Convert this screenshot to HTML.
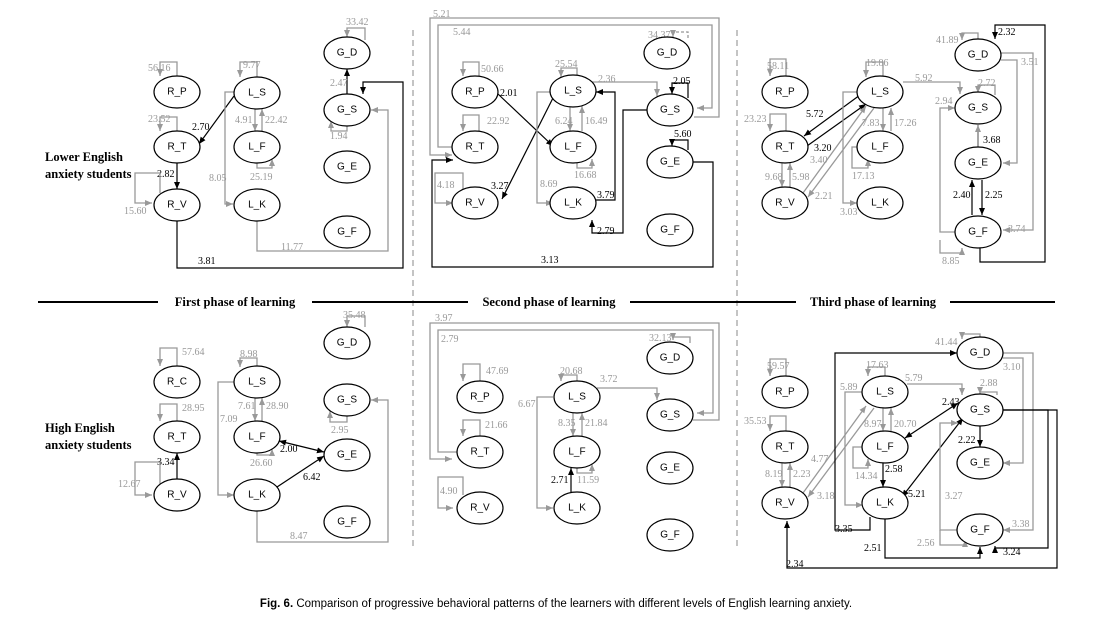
<!DOCTYPE html>
<html><head><meta charset="utf-8"><style>
html,body{margin:0;padding:0;background:#fff;}
svg{display:block}
.n ellipse{fill:#fff;stroke:#000;stroke-width:1.2}
.n text{font-family:"Liberation Sans",sans-serif;font-size:10px;text-anchor:middle;dominant-baseline:central;fill:#000}
.g{fill:none;stroke:#999;stroke-width:1.3;marker-end:url(#ag)}
.b{fill:none;stroke:#000;stroke-width:1.2;marker-end:url(#ab)}
.bb{fill:none;stroke:#000;stroke-width:1.2;marker-end:url(#ab);marker-start:url(#as)}
.lg{font-family:"Liberation Serif",serif;font-size:10px;fill:#999}
.lb{font-family:"Liberation Serif",serif;font-size:10px;fill:#000}
.h{font-family:"Liberation Serif",serif;font-size:12.5px;font-weight:bold;fill:#000}
</style></head><body>
<svg width="1113" height="634" viewBox="0 0 1113 634" xmlns="http://www.w3.org/2000/svg">
<defs>
<marker id="ag" markerWidth="8" markerHeight="8" refX="7" refY="3" orient="auto" markerUnits="userSpaceOnUse"><path d="M0,0 L7,3 L0,6z" fill="#999"/></marker>
<marker id="ab" markerWidth="8" markerHeight="8" refX="7" refY="3" orient="auto" markerUnits="userSpaceOnUse"><path d="M0,0 L7,3 L0,6z" fill="#000"/></marker>
<marker id="as" markerWidth="8" markerHeight="8" refX="0" refY="3" orient="auto" markerUnits="userSpaceOnUse"><path d="M7,0 L0,3 L7,6z" fill="#000"/></marker>
</defs>

<!-- dividers -->
<line x1="413" y1="30" x2="413" y2="548" stroke="#888" stroke-dasharray="6,4"/>
<line x1="737" y1="30" x2="737" y2="548" stroke="#888" stroke-dasharray="6,4"/>
<line x1="38" y1="302" x2="158" y2="302" stroke="#000" stroke-width="2"/>
<line x1="312" y1="302" x2="468" y2="302" stroke="#000" stroke-width="2"/>
<line x1="630" y1="302" x2="796" y2="302" stroke="#000" stroke-width="2"/>
<line x1="950" y1="302" x2="1055" y2="302" stroke="#000" stroke-width="2"/>
<rect x="160" y="294" width="150" height="16" fill="#fff"/>
<text class="h" x="235" y="306" text-anchor="middle">First phase of learning</text>
<text class="h" x="549" y="306" text-anchor="middle">Second phase of learning</text>
<text class="h" x="873" y="306" text-anchor="middle">Third phase of learning</text>
<text class="h" x="45" y="161">Lower English</text>
<text class="h" x="45" y="178">anxiety students</text>
<text class="h" x="45" y="432">High English</text>
<text class="h" x="45" y="449">anxiety students</text>
<text x="556" y="607" text-anchor="middle" style="font-family:'Liberation Sans',sans-serif;font-size:11.5px"><tspan font-weight="bold">Fig. 6.</tspan> Comparison of progressive behavioral patterns of the learners with different levels of English learning anxiety.</text>

<!-- ===== Panel 1 top edges ===== -->
<path class="g" d="M177,76 V62 H160 V76"/><text class="lg" x="148" y="71">56.16</text>
<path class="g" d="M177,131 V117 H160 V131"/><text class="lg" x="148" y="122">23.52</text>
<path class="b" d="M177,163 V189"/><text class="lb" x="157" y="177">2.82</text>
<path class="g" d="M160,193 V173 H135 V203 H152"/><text class="lg" x="124" y="214">15.60</text>
<path class="b" d="M234,96 L199,144"/><text class="lb" x="192" y="130">2.70</text>
<path class="g" d="M257,77 V62 H240 V77"/><text class="lg" x="243" y="68">9.77</text>
<path class="g" d="M255,109 V131"/><path class="g" d="M262,131 V109"/><text class="lg" x="235" y="123">4.91</text><text class="lg" x="265" y="123">22.42</text>
<path class="g" d="M257,163 V168 H272 V159"/><text class="lg" x="250" y="180">25.19</text>
<path class="g" d="M234,92 H225 V204 H233"/><text class="lg" x="209" y="181">8.05</text>
<path class="g" d="M257,221 V251 H388 V110 H371"/><text class="lg" x="281" y="250">11.77</text>
<path class="b" d="M177,221 V268 H403 V82 H363 V94"/><text class="lb" x="198" y="264">3.81</text>
<path class="b" d="M347,94 V69"/><text class="lg" x="330" y="86">2.47</text>
<path class="g" d="M365,40 V28 H347 V37"/><text class="lg" x="346" y="25">33.42</text>
<path class="g" d="M347,126 V131 H331 V121"/><text class="lg" x="330" y="139">1.94</text>

<!-- ===== Panel 2 top ===== -->
<path class="g" d="M452,147 H438 V25 H712 V108 H697"/><text class="lg" x="453" y="35">5.44</text>
<path class="g" d="M694,117 H719 V18 H430 V155 H452"/><text class="lg" x="433" y="17">5.21</text>
<path class="b" d="M693,162 H713 V267 H432 V160 H453"/><text class="lb" x="541" y="263">3.13</text>
<path class="g" d="M463,189 V173 H435 V203 H453"/><text class="lg" x="437" y="188">4.18</text>
<path class="g" d="M479,76 V62 H463 V76"/><text class="lg" x="481" y="72">50.66</text>
<path class="g" d="M479,131 V115 H463 V131"/><text class="lg" x="487" y="124">22.92</text>
<path class="b" d="M498,94 L553,146"/><text class="lb" x="500" y="96">2.01</text>
<path class="b" d="M555,94 L502,199"/><text class="lb" x="491" y="189">3.27</text>
<path class="g" d="M577,75 V68 H561 V77"/><text class="lg" x="555" y="67">25.54</text>
<path class="g" d="M570,106 V131"/><path class="g" d="M582,131 V106"/><text class="lg" x="555" y="124">6.24</text><text class="lg" x="585" y="124">16.49</text>
<path class="g" d="M577,163 V168 H592 V159"/><text class="lg" x="574" y="178">16.68</text>
<path class="g" d="M553,92 H537 V203 H553"/><text class="lg" x="540" y="187">8.69</text>
<path class="b" d="M596,200 H615 V92 H596"/><text class="lb" x="597" y="198">3.79</text>
<path class="b" d="M647,110 H623 V233 H592 V220"/><text class="lb" x="597" y="234">2.79</text>
<path class="g" d="M592,82 H657 V96"/><text class="lg" x="598" y="82">2.36</text>
<path class="b" d="M688,98 V83 H672 V94"/><text class="lb" x="673" y="84">2.05</text>
<path class="b" d="M688,150 V140 H672 V146"/><text class="lb" x="674" y="137">5.60</text>
<path class="g" d="M688,38 V32 H673 V37" stroke-dasharray="3,2"/><text class="lg" x="648" y="38">34.37</text>

<!-- ===== Panel 3 top ===== -->
<path class="g" d="M786,76 V59 H770 V76"/><text class="lg" x="767" y="69">58.11</text>
<path class="g" d="M786,131 V114 H770 V131"/><text class="lg" x="744" y="122">23.23</text>
<path class="g" d="M782,163 V187"/><path class="g" d="M790,187 V163"/><text class="lg" x="765" y="180">9.68</text><text class="lg" x="792" y="180">5.98</text>
<path class="b" d="M860,95 L804,136"/><text class="lb" x="806" y="117">5.72</text>
<path class="b" d="M807,146 L866,104"/><text class="lb" x="814" y="151">3.20</text>
<path class="g" d="M803,193 L866,106"/><path class="g" d="M874,108 L808,197"/><text class="lg" x="810" y="163">3.40</text><text class="lg" x="815" y="199">2.21</text>
<path class="g" d="M883,76 V62 H866 V77"/><text class="lg" x="866" y="66">19.86</text>
<path class="g" d="M883,108 V131"/><path class="g" d="M891,131 V108"/><text class="lg" x="862" y="126">7.83</text><text class="lg" x="894" y="126">17.26</text>
<path class="g" d="M862,147 H852 V168 H868 V159"/><text class="lg" x="852" y="179">17.13</text>
<path class="g" d="M857,92 H843 V203 H857"/><text class="lg" x="840" y="215">3.03</text>
<path class="g" d="M903,82 H960 V94"/><text class="lg" x="915" y="81">5.92</text>
<path class="g" d="M995,95 V85 H978 V93"/><text class="lg" x="978" y="86">2.72</text>
<path class="g" d="M955,232 H940 V108 H955"/><text class="lg" x="935" y="104">2.94</text>
<path class="g" d="M940,240 V253 H962 V248"/><text class="lg" x="942" y="264">8.85</text>
<path class="g" d="M978,147 V125" style="stroke:#777"/><text class="lb" x="983" y="143">3.68</text>
<path class="b" d="M972,215 V180"/><path class="b" d="M982,180 V215"/><text class="lb" x="953" y="198">2.40</text><text class="lb" x="985" y="198">2.25</text>
<path class="g" d="M1001,53 H1033 V230 H1003"/><path class="g" d="M1001,60 H1017 V163 H1003"/><text class="lg" x="1021" y="65">3.51</text><text class="lg" x="1008" y="232">3.74</text>
<path class="b" d="M980,248 V262 H1045 V25 H995 V39"/><text class="lb" x="998" y="35">2.32</text>
<path class="g" d="M978,40 V33 H962 V40"/><text class="lg" x="936" y="43">41.89</text>

<!-- ===== Panel 1 bottom ===== -->
<path class="g" d="M365,327 V316 H347 V327"/><text class="lg" x="343" y="318">35.48</text>
<path class="g" d="M177,366 V348 H160 V366"/><text class="lg" x="182" y="355">57.64</text>
<path class="g" d="M177,421 V404 H160 V421"/><text class="lg" x="182" y="411">28.95</text>
<path class="b" d="M177,479 V453"/><text class="lb" x="157" y="465">3.34</text>
<path class="g" d="M160,484 V462 H135 V495 H152"/><text class="lg" x="118" y="487">12.67</text>
<path class="g" d="M257,367 V358 H240 V367"/><text class="lg" x="240" y="357">8.98</text>
<path class="g" d="M255,398 V421"/><path class="g" d="M262,421 V398"/><text class="lg" x="238" y="409">7.61</text><text class="lg" x="266" y="409">28.90</text>
<path class="g" d="M257,453 V455 H272 V449"/><text class="lg" x="250" y="466">26.60</text>
<path class="g" d="M234,382 H218 V495 H234"/><text class="lg" x="220" y="422">7.09</text>
<path class="bb" d="M279,441 L324,452"/><text class="lb" x="280" y="452">2.00</text>
<path class="b" d="M277,487 L324,456"/><text class="lb" x="303" y="480">6.42</text>
<path class="g" d="M347,416 V422 H330 V411"/><text class="lg" x="331" y="433">2.95</text>
<path class="g" d="M257,511 V542 H388 V400 H371"/><text class="lg" x="290" y="539">8.47</text>

<!-- ===== Panel 2 bottom ===== -->
<path class="g" d="M693,420 H719 V323 H430 V459 H452"/><text class="lg" x="435" y="321">3.97</text>
<path class="g" d="M458,452 H438 V330 H713 V413 H697"/><text class="lg" x="441" y="342">2.79</text>
<path class="g" d="M690,343 V337 H673 V340"/><text class="lg" x="649" y="341">32.13</text>
<path class="g" d="M480,381 V364 H463 V381"/><text class="lg" x="486" y="374">47.69</text>
<path class="g" d="M480,436 V420 H463 V436"/><text class="lg" x="485" y="428">21.66</text>
<path class="g" d="M463,495 V477 H438 V508 H453"/><text class="lg" x="440" y="494">4.90</text>
<path class="g" d="M577,381 V375 H561 V381"/><text class="lg" x="560" y="374">20.68</text>
<path class="g" d="M573,413 V436"/><path class="g" d="M582,436 V413"/><text class="lg" x="558" y="426">8.35</text><text class="lg" x="585" y="426">21.84</text>
<path class="g" d="M577,468 V473 H592 V464"/><text class="lg" x="577" y="483">11.59</text>
<path class="b" d="M571,492 V468"/><text class="lb" x="551" y="483">2.71</text>
<path class="g" d="M553,397 H537 V508 H553"/><text class="lg" x="518" y="407">6.67</text>
<path class="g" d="M597,388 H657 V400"/><text class="lg" x="600" y="382">3.72</text>

<!-- ===== Panel 3 bottom ===== -->
<path class="g" d="M980,337 V334 H962 V339"/><text class="lg" x="935" y="345">41.44</text>
<path class="g" d="M786,376 V359 H770 V376"/><text class="lg" x="767" y="369">59.57</text>
<path class="g" d="M786,431 V416 H770 V431"/><text class="lg" x="744" y="424">35.53</text>
<path class="g" d="M782,463 V487"/><path class="g" d="M790,487 V463"/><text class="lg" x="765" y="477">8.19</text><text class="lg" x="793" y="477">2.23</text>
<path class="g" d="M803,493 L866,406"/><path class="g" d="M874,408 L808,497"/><text class="lg" x="811" y="462">4.77</text><text class="lg" x="817" y="499">3.18</text>
<path class="g" d="M885,376 V367 H868 V376"/><text class="lg" x="866" y="368">17.63</text>
<path class="g" d="M883,408 V431"/><path class="g" d="M891,431 V408"/><text class="lg" x="864" y="427">8.97</text><text class="lg" x="894" y="427">20.70</text>
<path class="g" d="M866,447 H853 V468 H868 V459"/><text class="lg" x="855" y="479">14.34</text>
<path class="g" d="M863,392 H845 V505 H863"/><text class="lg" x="840" y="390">5.89</text>
<path class="b" d="M883,463 V487"/><text class="lb" x="885" y="472">2.58</text>
<path class="b" d="M870,517 V530 H835 V353 H957"/><text class="lb" x="835" y="532">3.35</text>
<path class="g" d="M907,384 H962 V395"/><text class="lg" x="905" y="381">5.79</text>
<path class="g" d="M997,395 V392 H980 V394"/><text class="lg" x="980" y="386">2.88</text>
<path class="bb" d="M958,403 L905,438"/><text class="lb" x="942" y="405">2.43</text>
<path class="bb" d="M902,497 L963,418"/><text class="lb" x="908" y="497">5.21</text>
<path class="b" d="M980,426 V447"/><text class="lb" x="958" y="443">2.22</text>
<path class="g" d="M957,530 H940 V423 H958"/><text class="lg" x="945" y="499">3.27</text>
<path class="g" d="M940,530 V545 H965 V540"/><text class="lg" x="917" y="546">2.56</text>
<path class="g" d="M1003,353 H1033 V530 H1003"/><path class="g" d="M1003,358 H1023 V463 H1003"/><text class="lg" x="1003" y="370">3.10</text><text class="lg" x="1012" y="527">3.38</text>
<path class="b" d="M1003,410 H1048 V548 H995 V546"/><text class="lb" x="1003" y="555">3.24</text>
<path class="b" d="M1003,410 H1057 V568 H787 V521"/><text class="lb" x="786" y="567">2.34</text>
<path class="b" d="M885,519 V558 H980 V547"/><text class="lb" x="864" y="551">2.51</text>

<!-- ===== nodes ===== -->
<g class="n">
<!-- panel1 top -->
<ellipse cx="177" cy="92" rx="23" ry="16"/><text x="177" y="92">R_P</text>
<ellipse cx="177" cy="147" rx="23" ry="16"/><text x="177" y="147">R_T</text>
<ellipse cx="177" cy="205" rx="23" ry="16"/><text x="177" y="205">R_V</text>
<ellipse cx="257" cy="93" rx="23" ry="16"/><text x="257" y="93">L_S</text>
<ellipse cx="257" cy="147" rx="23" ry="16"/><text x="257" y="147">L_F</text>
<ellipse cx="257" cy="205" rx="23" ry="16"/><text x="257" y="205">L_K</text>
<ellipse cx="347" cy="53" rx="23" ry="16"/><text x="347" y="53">G_D</text>
<ellipse cx="347" cy="110" rx="23" ry="16"/><text x="347" y="110">G_S</text>
<ellipse cx="347" cy="167" rx="23" ry="16"/><text x="347" y="167">G_E</text>
<ellipse cx="347" cy="232" rx="23" ry="16"/><text x="347" y="232">G_F</text>
<!-- panel2 top -->
<ellipse cx="475" cy="92" rx="23" ry="16"/><text x="475" y="92">R_P</text>
<ellipse cx="475" cy="147" rx="23" ry="16"/><text x="475" y="147">R_T</text>
<ellipse cx="475" cy="203" rx="23" ry="16"/><text x="475" y="203">R_V</text>
<ellipse cx="573" cy="91" rx="23" ry="16"/><text x="573" y="91">L_S</text>
<ellipse cx="573" cy="147" rx="23" ry="16"/><text x="573" y="147">L_F</text>
<ellipse cx="573" cy="203" rx="23" ry="16"/><text x="573" y="203">L_K</text>
<ellipse cx="667" cy="53" rx="23" ry="16"/><text x="667" y="53">G_D</text>
<ellipse cx="670" cy="110" rx="23" ry="16"/><text x="670" y="110">G_S</text>
<ellipse cx="670" cy="162" rx="23" ry="16"/><text x="670" y="162">G_E</text>
<ellipse cx="670" cy="230" rx="23" ry="16"/><text x="670" y="230">G_F</text>
<!-- panel3 top -->
<ellipse cx="785" cy="92" rx="23" ry="16"/><text x="785" y="92">R_P</text>
<ellipse cx="785" cy="147" rx="23" ry="16"/><text x="785" y="147">R_T</text>
<ellipse cx="785" cy="203" rx="23" ry="16"/><text x="785" y="203">R_V</text>
<ellipse cx="880" cy="92" rx="23" ry="16"/><text x="880" y="92">L_S</text>
<ellipse cx="880" cy="147" rx="23" ry="16"/><text x="880" y="147">L_F</text>
<ellipse cx="880" cy="203" rx="23" ry="16"/><text x="880" y="203">L_K</text>
<ellipse cx="978" cy="55" rx="23" ry="16"/><text x="978" y="55">G_D</text>
<ellipse cx="978" cy="108" rx="23" ry="16"/><text x="978" y="108">G_S</text>
<ellipse cx="978" cy="163" rx="23" ry="16"/><text x="978" y="163">G_E</text>
<ellipse cx="978" cy="232" rx="23" ry="16"/><text x="978" y="232">G_F</text>
<!-- panel1 bottom -->
<ellipse cx="347" cy="343" rx="23" ry="16"/><text x="347" y="343">G_D</text>
<ellipse cx="177" cy="382" rx="23" ry="16"/><text x="177" y="382">R_C</text>
<ellipse cx="257" cy="382" rx="23" ry="16"/><text x="257" y="382">L_S</text>
<ellipse cx="347" cy="400" rx="23" ry="16"/><text x="347" y="400">G_S</text>
<ellipse cx="177" cy="437" rx="23" ry="16"/><text x="177" y="437">R_T</text>
<ellipse cx="257" cy="437" rx="23" ry="16"/><text x="257" y="437">L_F</text>
<ellipse cx="347" cy="455" rx="23" ry="16"/><text x="347" y="455">G_E</text>
<ellipse cx="177" cy="495" rx="23" ry="16"/><text x="177" y="495">R_V</text>
<ellipse cx="257" cy="495" rx="23" ry="16"/><text x="257" y="495">L_K</text>
<ellipse cx="347" cy="522" rx="23" ry="16"/><text x="347" y="522">G_F</text>
<!-- panel2 bottom -->
<ellipse cx="670" cy="358" rx="23" ry="16"/><text x="670" y="358">G_D</text>
<ellipse cx="480" cy="397" rx="23" ry="16"/><text x="480" y="397">R_P</text>
<ellipse cx="577" cy="397" rx="23" ry="16"/><text x="577" y="397">L_S</text>
<ellipse cx="670" cy="415" rx="23" ry="16"/><text x="670" y="415">G_S</text>
<ellipse cx="480" cy="452" rx="23" ry="16"/><text x="480" y="452">R_T</text>
<ellipse cx="577" cy="452" rx="23" ry="16"/><text x="577" y="452">L_F</text>
<ellipse cx="670" cy="468" rx="23" ry="16"/><text x="670" y="468">G_E</text>
<ellipse cx="480" cy="508" rx="23" ry="16"/><text x="480" y="508">R_V</text>
<ellipse cx="577" cy="508" rx="23" ry="16"/><text x="577" y="508">L_K</text>
<ellipse cx="670" cy="535" rx="23" ry="16"/><text x="670" y="535">G_F</text>
<!-- panel3 bottom -->
<ellipse cx="980" cy="353" rx="23" ry="16"/><text x="980" y="353">G_D</text>
<ellipse cx="785" cy="392" rx="23" ry="16"/><text x="785" y="392">R_P</text>
<ellipse cx="885" cy="392" rx="23" ry="16"/><text x="885" y="392">L_S</text>
<ellipse cx="980" cy="410" rx="23" ry="16"/><text x="980" y="410">G_S</text>
<ellipse cx="785" cy="447" rx="23" ry="16"/><text x="785" y="447">R_T</text>
<ellipse cx="885" cy="447" rx="23" ry="16"/><text x="885" y="447">L_F</text>
<ellipse cx="980" cy="463" rx="23" ry="16"/><text x="980" y="463">G_E</text>
<ellipse cx="785" cy="503" rx="23" ry="16"/><text x="785" y="503">R_V</text>
<ellipse cx="885" cy="503" rx="23" ry="16"/><text x="885" y="503">L_K</text>
<ellipse cx="980" cy="530" rx="23" ry="16"/><text x="980" y="530">G_F</text>
</g>
</svg>
</body></html>
